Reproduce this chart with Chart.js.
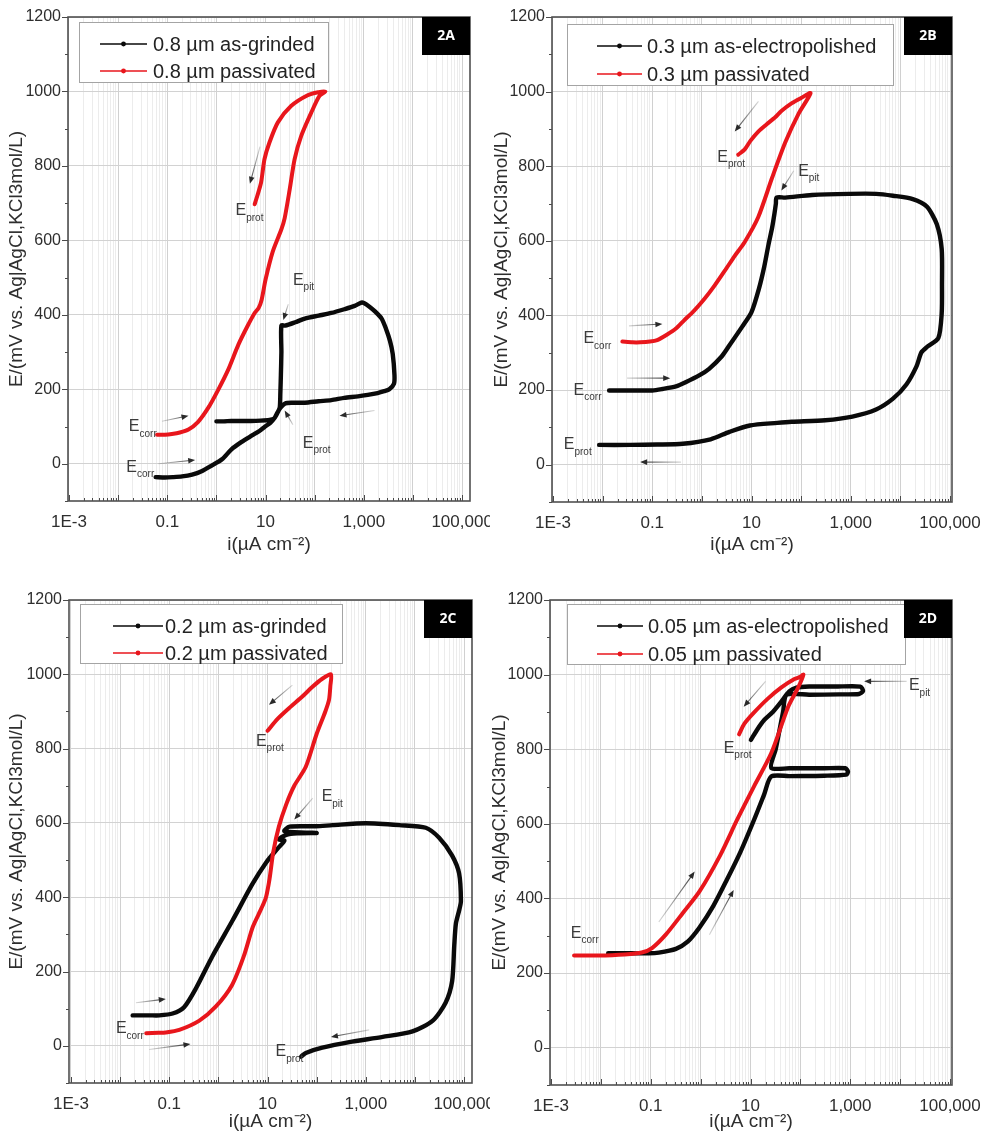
<!DOCTYPE html>
<html lang="en">
<head>
<meta charset="utf-8">
<title>Cyclic polarization curves – 2A to 2D</title>
<script src="https://cdn.jsdelivr.net/npm/chart.js"></script>
<style>
  html, body { margin: 0; padding: 0; background: #fff; }
  body { position: relative; width: 981px; height: 1137px; overflow: hidden; }
  canvas { position: absolute; display: block; }
</style>
</head>
<body>
<canvas id="pA" width="490" height="560" style="left:0px;top:0px"></canvas>
<canvas id="pB" width="491" height="560" style="left:490px;top:0px"></canvas>
<canvas id="pC" width="490" height="557" style="left:0px;top:580px"></canvas>
<canvas id="pD" width="491" height="557" style="left:490px;top:580px"></canvas>
<script>
// ---------- axis text ----------
const X_TICK_EXP    = [-3, -1, 1, 3, 5];
const X_TICK_LABELS = ['1E-3', '0.1', '10', '1,000', '100,000'];
const Y_TICK_VALUES = [0, 200, 400, 600, 800, 1000, 1200];
const X_TITLE = 'i(µA cm⁻²)';
const Y_TITLE = 'E/(mV vs. Ag|AgCl,KCl3mol/L)';

// ---------- 2A : 0.8 µm ----------
const A_NAMES = ['0.8 µm as-grinded', '0.8 µm passivated'];
const A_GRIND_I = [0.058, 0.09, 0.13, 0.2, 0.32, 0.5, 0.8, 1.3, 2.0, 3.2, 5.3, 7.5, 9.8, 12.5, 15.5, 18, 19.5, 20, 20.5, 21,
                   21, 25, 40, 63, 120, 218, 400, 650, 890, 1000, 1300, 1660, 2300, 2830, 3400, 3870, 4200, 4100, 3300, 2600,
                   1900, 1200, 760, 400, 218, 120, 63, 35, 25, 20, 17, 15, 12, 8, 5, 3, 2, 1.4, 1.0];
const A_GRIND_E = [-36, -37, -36, -34, -29, -20, -5, 12, 38, 58, 76, 88, 100, 110, 124, 140, 152, 190, 238, 300,
                   371, 371, 380, 390, 398, 405, 415, 424, 433, 432, 422, 410, 390, 362, 330, 295, 238, 215, 200, 195,
                   190, 185, 181, 177, 171, 168, 164, 164, 162, 150, 135, 122, 118, 116, 115, 115, 115, 114, 114];
const A_PASS_I = [0.062, 0.09, 0.124, 0.18, 0.27, 0.42, 0.68, 1.1, 1.74, 2.8, 4.3, 6.0, 7.2, 8.3, 10, 14, 21, 24.5, 31, 39,
                  53, 85, 125, 165, 120, 72, 33, 17.8, 12, 9.5, 8.1, 6.8, 6.0];
const A_PASS_E = [78, 78, 80, 84, 92, 112, 150, 200, 253, 320, 370, 405, 418, 440, 495, 570, 630, 660, 737, 818,
                  880, 943, 988, 1000, 998, 990, 961, 917, 863, 818, 755, 720, 697];

// ---------- 2B : 0.3 µm ----------
const B_NAMES = ['0.3 µm as-electropolished', '0.3 µm passivated'];
const B_EP_I = [0.0135, 0.03, 0.05, 0.1, 0.16, 0.3, 0.47, 0.9, 1.4, 2.5, 3.6, 6.5, 10, 14, 18, 22, 26, 29, 31, 32,
                48, 166, 930, 3240, 7100, 17800, 34000, 54000, 68000, 69000, 68000, 58000, 34000, 26500, 21000, 13200, 7100, 3240, 1080, 306,
                65, 33, 9.3, 3.6, 1.5, 0.41, 0.126, 0.036, 0.0085];
const B_EP_E = [199, 199, 199, 199, 203, 210, 221, 240, 257, 290, 320, 370, 409, 470, 530, 590, 635, 673, 700, 716,
                716, 723, 726, 726, 721, 712, 692, 645, 578, 482, 406, 339, 315, 301, 263, 215, 177, 148, 129, 119,
                115, 112, 105, 88, 68, 56, 54, 53, 53];
const B_PASS_I = [0.025, 0.04, 0.057, 0.09, 0.126, 0.2, 0.3, 0.44, 0.7, 1.12, 1.8, 2.9, 4.6, 7.3, 13.7, 26, 48, 89, 155,
                  100, 65, 40, 30, 20, 13.7, 9.5, 7.3, 5.4];
const B_PASS_E = [330, 328, 328, 330, 334, 349, 365, 387, 413, 444, 480, 520, 560, 597, 664, 769, 864, 941, 996,
                  983, 969, 948, 931, 912, 893, 868, 845, 831];

// ---------- 2C : 0.2 µm ----------
const C_NAMES = ['0.2 µm as-grinded', '0.2 µm passivated'];
const C_GRIND_I = [0.018, 0.04, 0.063, 0.117, 0.2, 0.35, 0.76, 1.95, 4.9, 9.3, 16, 22, 17, 24, 40, 100, 60, 22, 28, 96,
                   210, 1000, 4800, 16600, 31000, 57000, 79000, 86000, 80000, 68000, 63000, 57000, 42000, 23000, 8900, 2200, 460, 130, 60, 48];
const C_GRIND_E = [82, 82, 82, 87, 104, 155, 242, 338, 435, 493, 531, 552, 556, 568, 572, 573, 574, 578, 590, 591,
                   594, 599, 594, 587, 560, 512, 464, 390, 367, 329, 271, 174, 116, 68, 39, 24, 10, -5, -19, -29];
const C_PASS_I = [0.034, 0.06, 0.085, 0.16, 0.41, 0.89, 1.9, 3.3, 5.0, 7.5, 9.3, 11, 13, 17, 24, 35, 60, 100, 150, 178,
                  190, 195, 130, 80, 51, 28, 16, 10];
const C_PASS_E = [34, 35, 36, 43, 68, 106, 164, 242, 320, 370, 400, 450, 520, 590, 650, 700, 751, 840, 900, 931,
                  970, 1000, 988, 965, 940, 910, 880, 848];

// ---------- 2D : 0.05 µm ----------
const D_NAMES = ['0.05 µm as-electropolished', '0.05 µm passivated'];
const D_EP_I = [0.014, 0.042, 0.09, 0.145, 0.32, 0.55, 0.95, 1.8, 3.3, 6.3, 11.8, 18.8, 26, 60, 300, 830, 900, 800, 300, 60,
                26, 32, 38, 45, 53, 150, 600, 1500, 1800, 1600, 500, 150, 83, 60, 40, 28, 19, 14, 10.2];
const D_EP_E = [253, 253, 253, 255, 265, 284, 322, 380, 448, 525, 611, 679, 727, 728, 729, 732, 740, 749, 749, 749,
                750, 800, 850, 900, 946, 946, 947, 948, 956, 968, 968, 968, 965, 955, 925, 900, 879, 855, 825];
const D_PASS_I = [0.0029, 0.0087, 0.03, 0.066, 0.106, 0.2, 0.44, 0.95, 2.45, 5.4, 11.7, 26, 57, 90, 115,
                  100, 76, 41, 22, 11.7, 7.5, 5.9];
const D_PASS_E = [247, 247, 250, 255, 267, 303, 361, 419, 515, 611, 700, 789, 914, 965, 1000,
                  994, 988, 965, 935, 898, 868, 840];

// ---------- styling ----------
const FONT  = '"Liberation Sans", Arial, Helvetica, sans-serif';
const BLACK = '#0a0a0a';
const RED   = '#e8161c';
Chart.defaults.font.family = FONT;

// panel layout: canvas-relative plot frame, x range (log10), legend box, annotations (data coordinates)
const PANELS = [
  { canvas: 'pA', tag: '2A', area: { l: 68, t: 17, r: 470, b: 501 }, xr: [-3.02, 5.16], yTitleX: 17,
    series: [ { label: A_NAMES[0], i: A_GRIND_I, E: A_GRIND_E, color: BLACK },
              { label: A_NAMES[1], i: A_PASS_I,  E: A_PASS_E,  color: RED } ],
    legend: { x: 11, y: 5, w: 249, h: 60, rows: [22, 49], s0: 21, s1: 68, tx: 74 },
    marks: [ { sub: 'corr', i: 0.0165, E: 99 }, { sub: 'corr', i: 0.0147, E: -10 },
             { sub: 'prot', i: 2.45, E: 679 }, { sub: 'pit', i: 36, E: 493 }, { sub: 'prot', i: 57, E: 54 } ],
    arrows: [ [0.078, 114, 0.27, 129], [0.066, 0, 0.37, 10], [7.7, 852, 4.8, 752],
              [29, 429, 23, 386], [36, 105, 24.5, 143], [1650, 143, 320, 129] ] },
  { canvas: 'pB', tag: '2B', area: { l: 62, t: 17, r: 462, b: 502 }, xr: [-3.02, 5.04], yTitleX: 12,
    series: [ { label: B_NAMES[0], i: B_EP_I,   E: B_EP_E,   color: BLACK },
              { label: B_NAMES[1], i: B_PASS_I, E: B_PASS_E, color: RED } ],
    legend: { x: 15, y: 7, w: 326, h: 61, rows: [22, 50], s0: 30, s1: 75, tx: 80 },
    marks: [ { sub: 'corr', i: 0.0041, E: 337 }, { sub: 'corr', i: 0.0026, E: 199 },
             { sub: 'prot', i: 0.00165, E: 53 }, { sub: 'prot', i: 2.04, E: 824 }, { sub: 'pit', i: 87, E: 786 } ],
    arrows: [ [0.034, 372, 0.16, 377], [0.031, 232, 0.23, 232], [0.38, 7, 0.057, 7],
              [13.8, 974, 4.6, 893], [71, 788, 40, 735] ] },
  { canvas: 'pC', tag: '2C', area: { l: 69, t: 20, r: 472, b: 503 }, xr: [-3.04, 5.16], yTitleX: 17,
    series: [ { label: C_NAMES[0], i: C_GRIND_I, E: C_GRIND_E, color: BLACK },
              { label: C_NAMES[1], i: C_PASS_I,  E: C_PASS_E,  color: RED } ],
    legend: { x: 11, y: 4, w: 262, h: 59, rows: [22, 49], s0: 33, s1: 83, tx: 85 },
    marks: [ { sub: 'corr', i: 0.0082, E: 46 }, { sub: 'prot', i: 5.8, E: 819 },
             { sub: 'pit', i: 126, E: 670 }, { sub: 'prot', i: 14.5, E: -16 } ],
    arrows: [ [0.021, 116, 0.085, 126], [0.039, -10, 0.27, 5], [32, 971, 10.7, 918],
              [83, 667, 35, 609], [1170, 43, 195, 24] ] },
  { canvas: 'pD', tag: '2D', area: { l: 60, t: 20, r: 462, b: 505 }, xr: [-3.02, 5.04], yTitleX: 10,
    series: [ { label: D_NAMES[0], i: D_EP_I,   E: D_EP_E,   color: BLACK },
              { label: D_NAMES[1], i: D_PASS_I, E: D_PASS_E, color: RED } ],
    legend: { x: 17, y: 4, w: 338, h: 60, rows: [22, 50], s0: 30, s1: 76, tx: 81 },
    marks: [ { sub: 'corr', i: 0.0025, E: 306 }, { sub: 'prot', i: 2.9, E: 802 }, { sub: 'pit', i: 15000, E: 970 } ],
    arrows: [ [0.145, 337, 0.76, 472], [1.5, 303, 4.6, 423], [20, 982, 7.3, 914], [13500, 982, 1900, 982] ] }
];

// ---------- helpers ----------
function isDecade(v) { const l = Math.log10(v); return Math.abs(l - Math.round(l)) < 1e-9; }
function xTickValues(min, max) {
  const out = [];
  for (let d = Math.floor(Math.log10(min)); d <= Math.ceil(Math.log10(max)); d++) {
    for (let m = 1; m <= 9; m++) {
      const v = m * Math.pow(10, d);
      if (v >= min * 0.9999 && v <= max * 1.0001) out.push(v);
    }
  }
  return out;
}
function xLabel(v) {
  if (!isDecade(v)) return '';
  const k = X_TICK_EXP.indexOf(Math.round(Math.log10(v)));
  return k >= 0 ? X_TICK_LABELS[k] : '';
}
function drawArrow(ctx, x1, y1, x2, y2) {
  const a = Math.atan2(y2 - y1, x2 - x1), hl = 7, hw = 2.8;
  const g = ctx.createLinearGradient(x1, y1, x2, y2);
  g.addColorStop(0, 'rgba(90,90,90,0.25)');
  g.addColorStop(1, 'rgba(40,40,40,0.95)');
  ctx.strokeStyle = g; ctx.lineWidth = 1.1;
  ctx.beginPath(); ctx.moveTo(x1, y1);
  ctx.lineTo(x2 - hl * 0.7 * Math.cos(a), y2 - hl * 0.7 * Math.sin(a)); ctx.stroke();
  ctx.fillStyle = '#2a2a2a';
  ctx.beginPath(); ctx.moveTo(x2, y2);
  ctx.lineTo(x2 - hl * Math.cos(a) + hw * Math.sin(a), y2 - hl * Math.sin(a) - hw * Math.cos(a));
  ctx.lineTo(x2 - hl * Math.cos(a) - hw * Math.sin(a), y2 - hl * Math.sin(a) + hw * Math.cos(a));
  ctx.closePath(); ctx.fill();
}
function drawELabel(ctx, x, y, sub) {
  ctx.fillStyle = '#3a3a3a'; ctx.textAlign = 'left'; ctx.textBaseline = 'middle';
  ctx.font = `16px ${FONT}`;
  ctx.fillText('E', x, y);
  const w = ctx.measureText('E').width;
  ctx.font = `10px ${FONT}`;
  ctx.fillText(sub, x + w, y + 7);
}

// frame, tick marks, annotations, legend and panel tag
const panelDecor = {
  id: 'panelDecor',
  afterDatasetsDraw(chart, args, opts) {
    const p = opts.panel, ctx = chart.ctx;
    const { left, top, right, bottom } = chart.chartArea;
    const xs = chart.scales.x, ys = chart.scales.y;
    const px = v => xs.getPixelForValue(v), py = v => ys.getPixelForValue(v);
    ctx.save();

    ctx.strokeStyle = '#4a4a4a'; ctx.lineWidth = 1;
    ctx.beginPath();
    for (const v of xTickValues(xs.min, xs.max)) {
      const x = Math.round(px(v)) + 0.5, len = isDecade(v) ? 6 : 3;
      ctx.moveTo(x, bottom); ctx.lineTo(x, bottom - len);
    }
    for (let v = -100; v <= 1200; v += 100) {
      const y = Math.round(py(v)) + 0.5, len = v % 200 === 0 ? 6 : 3;
      ctx.moveTo(left, y); ctx.lineTo(left - len, y);
    }
    ctx.stroke();

    ctx.strokeStyle = '#505050'; ctx.lineWidth = 1.6;
    ctx.strokeRect(left, top, right - left, bottom - top);

    for (const a of p.arrows) drawArrow(ctx, px(a[0]), py(a[1]), px(a[2]), py(a[3]));
    for (const m of p.marks) drawELabel(ctx, px(m.i), py(m.E), m.sub);

    const L = p.legend, bx = left + L.x, by = top + L.y;
    ctx.fillStyle = '#fff'; ctx.fillRect(bx, by, L.w, L.h);
    ctx.strokeStyle = '#a4a4a4'; ctx.lineWidth = 1;
    ctx.strokeRect(bx + 0.5, by + 0.5, L.w, L.h);
    p.series.forEach((s, k) => {
      const yy = by + L.rows[k];
      ctx.strokeStyle = s.color; ctx.lineWidth = 1.6;
      ctx.beginPath(); ctx.moveTo(bx + L.s0, yy); ctx.lineTo(bx + L.s1, yy); ctx.stroke();
      ctx.fillStyle = s.color;
      ctx.beginPath(); ctx.arc(bx + (L.s0 + L.s1) / 2, yy, 2.4, 0, Math.PI * 2); ctx.fill();
      ctx.fillStyle = '#232323'; ctx.font = `20px ${FONT}`;
      ctx.textAlign = 'left'; ctx.textBaseline = 'middle';
      ctx.fillText(s.label, bx + L.tx, yy + 1);
    });

    ctx.fillStyle = '#000'; ctx.fillRect(right - 48, top, 48, 38);
    ctx.fillStyle = '#fff'; ctx.font = `bold 14px "Open Sans", ${FONT}`;
    ctx.textAlign = 'center'; ctx.textBaseline = 'middle';
    ctx.fillText(p.tag, right - 24, top + 19);
    ctx.restore();
  }
};

function buildPanel(p) {
  const el = document.getElementById(p.canvas);
  const W = el.width, H = el.height;
  const datasets = p.series.map((s, k) => ({
    label: s.label,
    data: s.i.map((v, n) => ({ x: v, y: s.E[n] })),
    showLine: true,
    borderColor: s.color, backgroundColor: s.color,
    borderWidth: s.color === BLACK ? 4.4 : 4, pointRadius: 0, tension: 0.25,
    borderJoinStyle: 'round', borderCapStyle: 'round',
    order: p.series.length - k
  }));
  new Chart(el, {
    type: 'scatter',
    data: { datasets },
    plugins: [panelDecor],
    options: {
      responsive: false, animation: false, devicePixelRatio: 1,
      layout: { padding: { left: 0, top: p.area.t, right: W - p.area.r, bottom: 0 } },
      plugins: { legend: { display: false }, tooltip: { enabled: false }, panelDecor: { panel: p } },
      scales: {
        x: {
          type: 'logarithmic',
          min: Math.pow(10, p.xr[0]), max: Math.pow(10, p.xr[1]),
          afterBuildTicks: sc => { sc.ticks = xTickValues(sc.min, sc.max).map(v => ({ value: v })); },
          afterFit: sc => { sc.height = H - p.area.b; sc.paddingLeft = 0; sc.paddingRight = 0; },
          border: { display: false },
          grid: { drawTicks: false, lineWidth: 1,
                  color: c => (c.tick && isDecade(c.tick.value)) ? '#d0d0d0' : '#ececec' },
          ticks: { autoSkip: false, maxRotation: 0, minRotation: 0, padding: 11,
                   color: '#2e2e2e', font: { size: 17 }, callback: v => xLabel(v) },
          title: { display: true, text: X_TITLE, color: '#2e2e2e', font: { size: 19 },
                   padding: { top: 0, bottom: 3.6 } }
        },
        y: {
          type: 'linear', min: -100, max: 1200,
          afterFit: sc => { sc.width = p.area.l; sc.paddingTop = 0; sc.paddingBottom = 0; },
          border: { display: false },
          grid: { drawTicks: false, lineWidth: 1,
                  color: c => (c.tick && Y_TICK_VALUES.includes(c.tick.value)) ? '#d2d2d2' : 'rgba(0,0,0,0)' },
          ticks: { stepSize: 100, autoSkip: false, padding: 7, color: '#2e2e2e', font: { size: 16 },
                   callback: v => Y_TICK_VALUES.includes(v) ? String(v) : '' },
          title: { display: true, text: Y_TITLE, color: '#2e2e2e', font: { size: 19 },
                   padding: { top: p.yTitleX - 11.4, bottom: 0 } }
        }
      }
    }
  });
}

PANELS.forEach(buildPanel);
</script>
</body>
</html>
